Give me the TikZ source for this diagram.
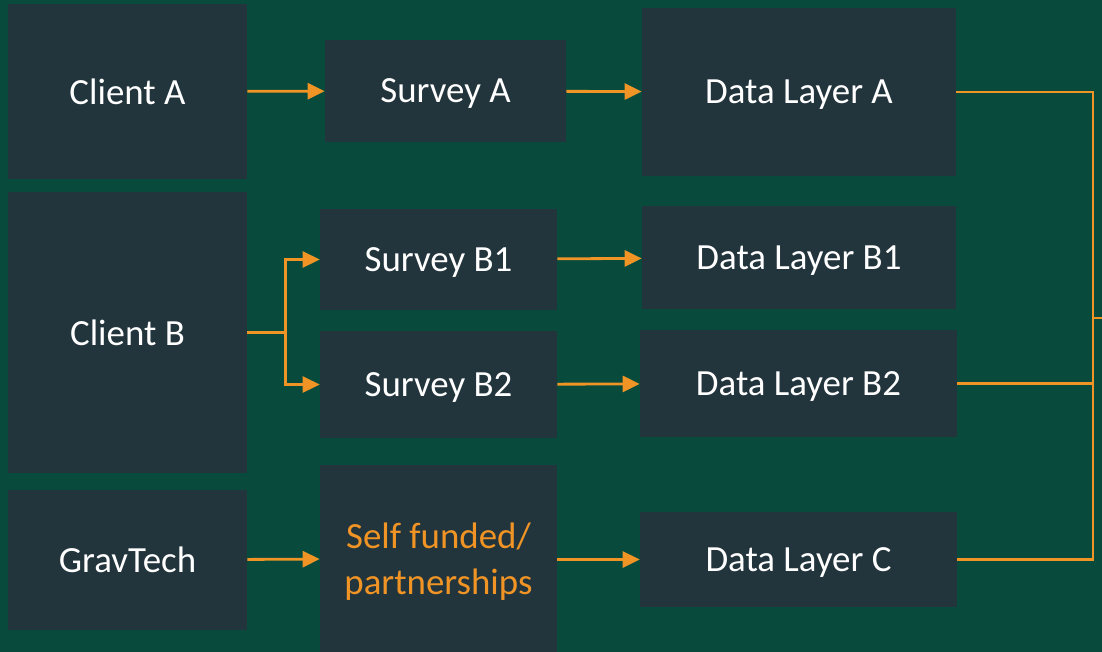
\documentclass[tikz,border=0pt]{standalone}
\usepackage{fontspec}
\setmainfont{Carlito}
\usetikzlibrary{arrows.meta}
\definecolor{bggreen}{HTML}{084B3D}
\definecolor{boxgrey}{HTML}{22343C}
\definecolor{flow}{HTML}{EF9425}

\begin{document}
\begin{tikzpicture}[x=0.02cm,y=-0.02cm,>={Triangle[length=0.34cm,width=0.32cm]}]
  \tikzstyle{block}=[rectangle,fill=boxgrey,text=white,inner sep=0pt,text depth=0pt,
                     font=\fontsize{21}{26}\selectfont]
  \tikzstyle{link}=[draw=flow,line width=1.6pt]
  \fill[bggreen] (0,0) rectangle (1102,652);
  \useasboundingbox (0,0) rectangle (1102,652);
  % clients
  \node [block,minimum width=4.78cm,minimum height=3.5cm] (ca) at (127.5,91.5) {Client A};
  \node [block,minimum width=4.78cm,minimum height=5.62cm] (cb) at (127.5,332.5) {Client B};
  \node [block,minimum width=4.78cm,minimum height=2.8cm] (gt) at (127.5,560) {GravTech};
  % surveys
  \node [block,minimum width=4.82cm,minimum height=2.04cm] (sa) at (445.5,91) {Survey A};
  \node [block,minimum width=4.74cm,minimum height=2.02cm] (sb1) at (438.5,259.5) {Survey B1};
  \node [block,minimum width=4.74cm,minimum height=2.14cm] (sb2) at (438.5,384.5) {Survey B2};
  \node [block,minimum width=4.74cm,minimum height=3.74cm,text=flow,align=center]
    (sf) at (438.5,558.5) {Self funded/\\partnerships};
  % data layers
  \node [block,minimum width=6.28cm,minimum height=3.36cm] (da) at (799,92) {Data Layer A};
  \node [block,minimum width=6.28cm,minimum height=2.06cm] (db1) at (799,257.5) {Data Layer B1};
  \node [block,minimum width=6.34cm,minimum height=2.14cm] (db2) at (798.5,383.5) {Data Layer B2};
  \node [block,minimum width=6.34cm,minimum height=1.9cm] (dc) at (798.5,559.5) {Data Layer C};
  % flows
  \draw [link,->] (ca) -- (sa);
  \draw [link,->] (sa) -- (da);
  \draw [link] (cb.east) -- ++(38,0) coordinate (split);
  \draw [link,->] (split) |- (sb1.west);
  \draw [link,->] (split) |- (sb2.west);
  \draw [link,->] (sb1) -- (db1);
  \draw [link,->] (sb2) -- (db2);
  \draw [link,->] (gt) -- (sf);
  \draw [link,->] (sf.east |- dc) -- (dc);
  % merge on the right
  \coordinate (bus) at (1093,318);
  \coordinate (out) at (1102,318);
  \draw [link] (da.east) -| (bus) -- (out);
  \draw [link] (db2.east) -| (bus);
  \draw [link] (dc.east) -| (bus);
\end{tikzpicture}
\end{document}
